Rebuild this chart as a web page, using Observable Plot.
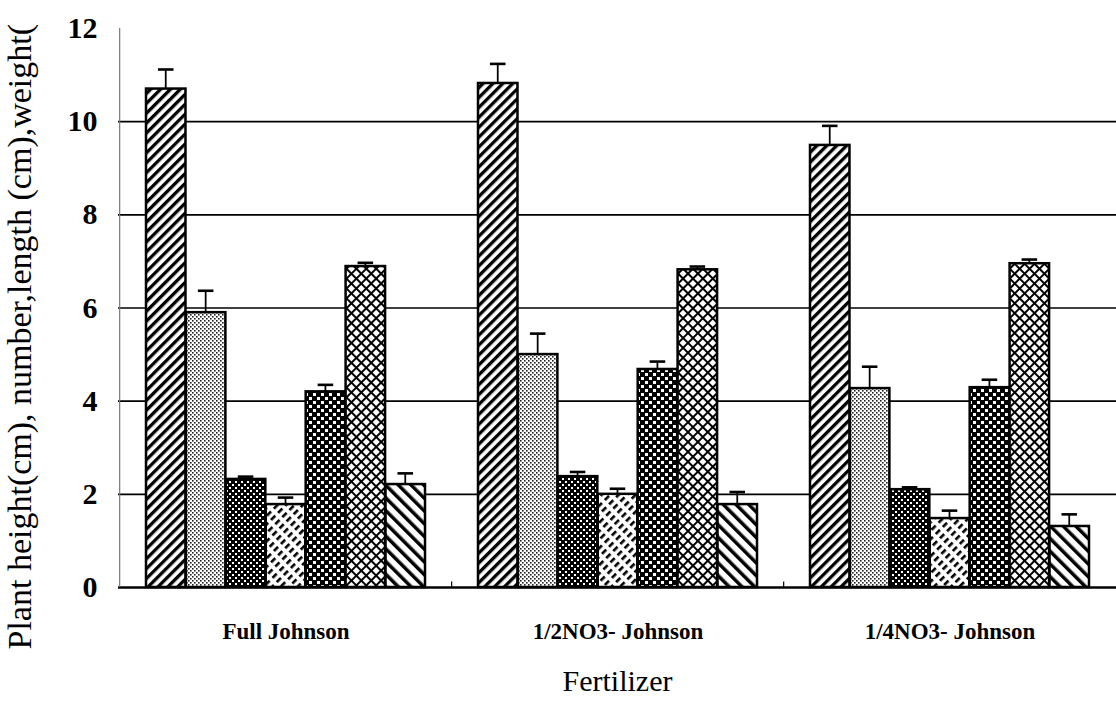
<!DOCTYPE html>
<html><head><meta charset="utf-8">
<script src="https://cdn.jsdelivr.net/npm/d3@7"></script>
<script src="https://cdn.jsdelivr.net/npm/@observablehq/plot@0.6"></script>
<style>
html,body{margin:0;padding:0;background:#fff}
svg{display:block}
#chart svg, #chart svg text{font-family:"Liberation Serif","Times New Roman",serif !important}
</style>
</head><body><div id="chart"></div>
<script>
// ---- data ----
const groups = ["Full Johnson", "1/2NO3- Johnson", "1/4NO3- Johnson"];
const series = ["S1", "S2", "S3", "S4", "S5", "S6", "S7"];
const values1 = [10.70, 10.82, 9.49];
const values2 = [5.90, 5.00, 4.27];
const values3 = [2.32, 2.38, 2.10];
const values4 = [1.78, 2.00, 1.48];
const values5 = [4.20, 4.68, 4.29];
const values6 = [6.89, 6.82, 6.95];
const values7 = [2.21, 1.78, 1.31];
const errors1 = [0.42, 0.42, 0.42];
const errors2 = [0.47, 0.45, 0.47];
const errors3 = [0.06, 0.10, 0.05];
const errors4 = [0.15, 0.12, 0.17];
const errors5 = [0.15, 0.17, 0.17];
const errors6 = [0.08, 0.07, 0.09];
const errors7 = [0.24, 0.27, 0.26];
const yTicks = [0, 2, 4, 6, 8, 10, 12];
const gridValues = [2, 4, 6, 8, 10];
const xTitle = "Fertilizer";
const yTitle = "Plant height(cm), number,length (cm),weight(";

const allValues = [values1, values2, values3, values4, values5, values6, values7];
const allErrors = [errors1, errors2, errors3, errors4, errors5, errors6, errors7];
const table = [];
series.forEach((s, i) => groups.forEach((g, j) => table.push({group: g, series: s, value: allValues[i][j], err: allErrors[i][j]})));

// ---- layout ----
const W = 1116, H = 702, mL = 118, mR = 0, mT = 28, mB = 115;
const pInner = 0.16, pOuter = 0.08;
const step = (W - mL - mR) / (groups.length - pInner + 2 * pOuter);
const bw = step * (1 - pInner);
const n = series.length;
const w = bw / n;
const capW = 16;
const font = "'Liberation Serif', 'Times New Roman', serif";
const patterns = ["p1", "p2", "p3", "p4", "p5", "p6", "p7"];

const marks = [];
marks.push(Plot.ruleY(gridValues, {stroke: "#000", strokeWidth: 1.6}));
series.forEach((s, i) => {
  const rows = table.filter(d => d.series === s);
  const l = i * w, r = (n - 1 - i) * w;
  marks.push(Plot.barY(rows, {x: "group", y1: "value", y2: d => d.value + d.err, fill: "#000",
    insetLeft: l + w / 2 - 1.1, insetRight: r + w / 2 - 1.1}));
  marks.push(Plot.barY(rows, {x: "group", y: "value", fill: `url(#${patterns[i]})`, stroke: "#000", strokeWidth: 2.5,
    insetLeft: l, insetRight: r}));
  marks.push(Plot.tickY(rows, {x: "group", y: d => d.value + d.err, stroke: "#000", strokeWidth: 2.6,
    insetLeft: l + (w - capW) / 2, insetRight: r + (w - capW) / 2}));
});
marks.push(Plot.ruleY([0], {stroke: "#000", strokeWidth: 2.5}));
marks.push(Plot.ruleX([groups[0]], {y1: 0, y2: 12, dx: -bw / 2 - pOuter * step, stroke: "#777", strokeWidth: 1.2}));
marks.push(Plot.ruleX(groups.slice(1), {y1: 0, y2: 0.12, dx: -step / 2, stroke: "#000", strokeWidth: 1.2}));
marks.push(Plot.axisY({ticks: yTicks, tickSize: 0, tickPadding: 21, fontSize: 30, fontWeight: "bold", fontFamily: font, label: null}));
marks.push(Plot.axisX({tickSize: 0, tickPadding: 35, fontSize: 23, fontWeight: "bold", fontFamily: font, label: null}));
marks.push(Plot.text([xTitle], {text: d => d, frameAnchor: "bottom", dy: 103, fontSize: 30, fontFamily: font, fill: "#000"}));
marks.push(Plot.text([yTitle], {text: d => d, frameAnchor: "bottom-left", rotate: -90, textAnchor: "start",
  dx: -88, dy: 62, fontSize: 34, fontFamily: font, fill: "#000"}));

const svg = Plot.plot({
  width: W, height: H,
  marginLeft: mL, marginRight: mR, marginTop: mT, marginBottom: mB,
  style: {background: "#fff", color: "#000"},
  x: {domain: groups, paddingInner: pInner, paddingOuter: pOuter, align: 0.5},
  y: {domain: [0, 12]},
  marks
});

// ---- fill patterns ----
const defs = d3.select(svg).insert("defs", ":first-child");
function pat(id, pw, ph, bg, rects, rot) {
  const p = defs.append("pattern").attr("id", id).attr("patternUnits", "userSpaceOnUse")
    .attr("width", pw).attr("height", ph);
  if (rot) p.attr("patternTransform", `rotate(${rot})`);
  p.append("rect").attr("width", pw).attr("height", ph).attr("fill", bg);
  rects.forEach(([x, y, rw, rh, c]) => p.append("rect").attr("x", x).attr("y", y).attr("width", rw).attr("height", rh).attr("fill", c));
}
pat("p1", 7, 7, "#fff", [[0, 0, 3.3, 7, "#000"]], 45);
pat("p2", 4, 4, "#fff", [[0, 0, 1.6, 1.6, "#222"], [2, 2, 1.6, 1.6, "#222"]], 0);
pat("p3", 6, 6, "#000", [[1, 1, 2, 2, "#fff"], [4, 4, 2, 2, "#fff"]], 0);
pat("p4", 6, 10, "#fff", [[0, 0, 2.6, 6, "#000"]], 45);
pat("p5", 8, 8, "#000", [[1, 1, 3, 3, "#fff"], [5, 5, 3, 3, "#fff"]], 0);
pat("p6", 7, 7, "#000", [[2, 2, 5, 5, "#fff"]], 45);
pat("p7", 9, 9, "#fff", [[0, 0, 3.5, 9, "#000"]], -45);

document.getElementById("chart").appendChild(svg);
</script>
</body></html>
